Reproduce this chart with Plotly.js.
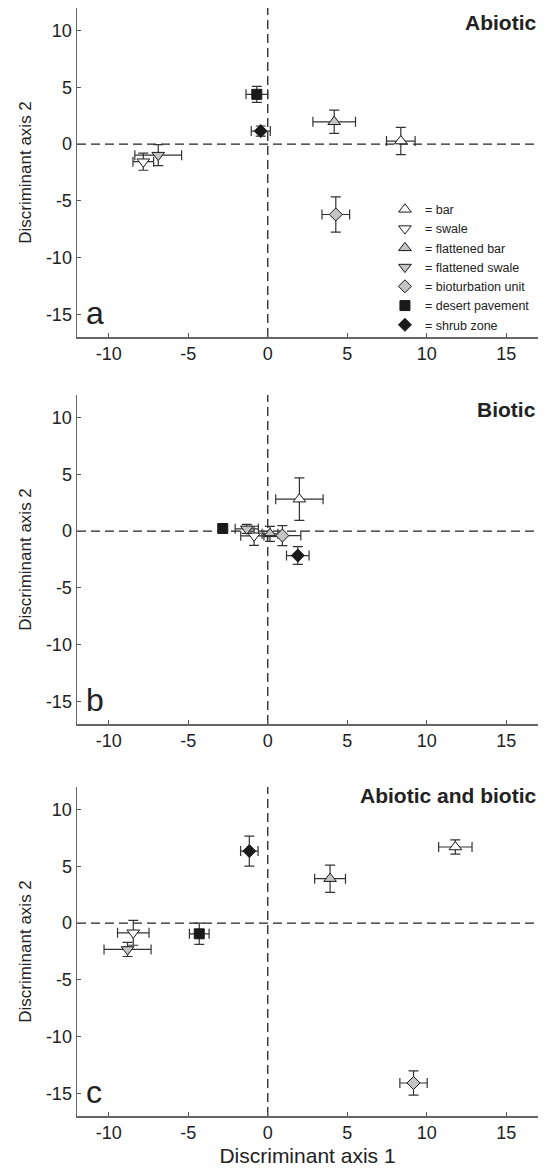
<!DOCTYPE html>
<html>
<head>
<meta charset="utf-8">
<script src="https://cdn.plot.ly/plotly-3.0.1.min.js"></script>
<style>html,body{margin:0;padding:0;background:#fff;}#chart{width:546px;height:1170px;}</style>
</head>
<body>
<div id="chart"></div>
<script>
// Categories (legend order)
var categories = ["bar", "swale", "flattened bar", "flattened swale", "bioturbation unit", "desert pavement", "shrub zone"];

// Panel a: Abiotic
var abioticX  = [8.37, -7.83, 4.18, -6.89, 4.28, -0.69, -0.44];
var abioticY  = [0.27, -1.55, 1.97, -0.97, -6.2, 4.39, 1.15];
var abioticEX = [0.9, 0.65, 1.34, 1.47, 0.87, 0.68, 0.6];
var abioticEY = [1.2, 0.75, 1.03, 0.93, 1.55, 0.7, 0.45];

// Panel b: Biotic
var bioticX  = [1.99, -0.86, 0.14, -1.32, 0.92, -2.83, 1.89];
var bioticY  = [2.82, -0.41, -0.24, 0.2, -0.39, 0.23, -2.15];
var bioticEX = [1.49, 0.84, 0.5, 0.73, 1.16, 0.2, 0.71];
var bioticEY = [1.88, 0.84, 0.66, 0.4, 0.88, 0.2, 0.78];

// Panel c: Abiotic and biotic
var bothX  = [11.8, -8.46, 3.92, -8.82, 9.17, -4.31, -1.16];
var bothY  = [6.71, -0.85, 3.92, -2.32, -14.09, -0.94, 6.35];
var bothEX = [1.05, 0.99, 0.97, 1.48, 0.86, 0.62, 0.55];
var bothEY = [0.63, 1.1, 1.2, 0.62, 1.07, 0.94, 1.32];

var panelTitles = ["Abiotic", "Biotic", "Abiotic and biotic"];
var panelLetters = ["a", "b", "c"];
var xTickVals = [-10, -5, 0, 5, 10, 15];
var xTickText = ["-10", "-5", "0", "5", "10", "15"];
var yTickVals = [-15, -10, -5, 0, 5, 10];
var yTickText = ["-15", "-10", "-5", "0", "5", "10"];

// Styles
var symbols = ["triangle-up", "triangle-down", "triangle-up", "triangle-down", "diamond", "square", "diamond"];
var fills   = ["#ffffff", "#ffffff", "#c4c4c4", "#c4c4c4", "#c4c4c4", "#1a1a1a", "#1a1a1a"];
var sizes   = [11, 11, 11, 11, 10, 10, 10];

var panels = [
  {x: abioticX, y: abioticY, ex: abioticEX, ey: abioticEY},
  {x: bioticX, y: bioticY, ex: bioticEX, ey: bioticEY},
  {x: bothX, y: bothY, ex: bothEX, ey: bothEY}
];

var traces = [];
panels.forEach(function (p, pi) {
  var sfx = pi === 0 ? "" : String(pi + 1);
  categories.forEach(function (cat, ci) {
    traces.push({
      type: "scatter",
      mode: "markers",
      x: [p.x[ci]],
      y: [p.y[ci]],
      xaxis: "x" + sfx,
      yaxis: "y" + sfx,
      name: "= " + cat,
      legendgroup: cat,
      showlegend: pi === 0,
      error_x: {type: "data", array: [p.ex[ci]], visible: true, color: "#333", thickness: 1.2, width: 5},
      error_y: {type: "data", array: [p.ey[ci]], visible: true, color: "#333", thickness: 1.2, width: 5},
      marker: {symbol: symbols[ci], size: sizes[ci], color: fills[ci], line: {color: "#1a1a1a", width: 1}},
      cliponaxis: false
    });
  });
});

var mT = 8, mB = 54, H = 1170;
var ph = H - mT - mB;
function dom(top, bot) { return [(H - mB - bot) / ph, (H - mB - top) / ph]; }
var domains = [dom(8, 337), dom(395, 724), dom(787, 1116)];

var font = "Liberation Sans, Arial, sans-serif";
var layout = {
  width: 546, height: 1170,
  margin: {l: 77, r: 8, t: mT, b: mB},
  paper_bgcolor: "#fff", plot_bgcolor: "#fff",
  font: {family: font, color: "#222", size: 18},
  showlegend: true,
  legend: {x: 0.668, y: 0.8315, xanchor: "left", yanchor: "top",
           font: {family: font, size: 12.5, color: "#222"}, bgcolor: "rgba(0,0,0,0)",
           itemclick: false, tracegroupgap: 0},
  shapes: [], annotations: []
};

panels.forEach(function (p, pi) {
  var sfx = pi === 0 ? "" : String(pi + 1);
  var xa = {
    domain: [0, 1], range: [-12, 17], anchor: "y" + sfx,
    tickmode: "array", tickvals: xTickVals, ticktext: xTickText,
    ticks: "inside", ticklen: 4, tickcolor: "#555", tickwidth: 1,
    showline: true, linecolor: "#666", linewidth: 1.5,
    showgrid: false, zeroline: false, mirror: false,
    tickfont: {family: font, size: 18, color: "#222"}
  };
  if (pi === 2) {
    xa.title = {text: "Discriminant axis 1", font: {family: font, size: 21, color: "#222"}, standoff: 6};
  }
  var ya = {
    domain: domains[pi], range: [-17, 12], anchor: "x" + sfx,
    tickmode: "array", tickvals: yTickVals, ticktext: yTickText,
    ticks: "inside", ticklen: 4, tickcolor: "#555", tickwidth: 1,
    showline: true, linecolor: "#666", linewidth: 1.5,
    showgrid: false, zeroline: false, mirror: false,
    tickfont: {family: font, size: 18, color: "#222"},
    title: {text: "Discriminant axis 2", font: {family: font, size: 17, color: "#222"}, standoff: 10}
  };
  layout["xaxis" + sfx] = xa;
  layout["yaxis" + sfx] = ya;

  layout.shapes.push({type: "line", xref: "x" + sfx, yref: "y" + sfx + " domain",
    x0: 0, x1: 0, y0: 0, y1: 1, line: {color: "#222", width: 1.3, dash: "9px,5px"}, layer: "below"});
  layout.shapes.push({type: "line", xref: "x" + sfx + " domain", yref: "y" + sfx,
    x0: 0, x1: 1, y0: 0, y1: 0, line: {color: "#222", width: 1.3, dash: "9px,5px"}, layer: "below"});

  layout.annotations.push({text: "<b>" + panelTitles[pi] + "</b>", xref: "x" + sfx + " domain", yref: "y" + sfx + " domain",
    x: 1, y: 1, xanchor: "right", yanchor: "top", showarrow: false,
    yshift: pi === 2 ? 5 : -1, font: {family: font, size: 21, color: "#222"}});
  layout.annotations.push({text: panelLetters[pi], xref: "x" + sfx + " domain", yref: "y" + sfx + " domain",
    x: 0.015, y: 0, xanchor: "left", yanchor: "bottom", showarrow: false, yshift: 4,
    font: {family: font, size: 32, color: "#222"}});
});

Plotly.newPlot("chart", traces, layout, {displayModeBar: false, staticPlot: true});
</script>
</body>
</html>
